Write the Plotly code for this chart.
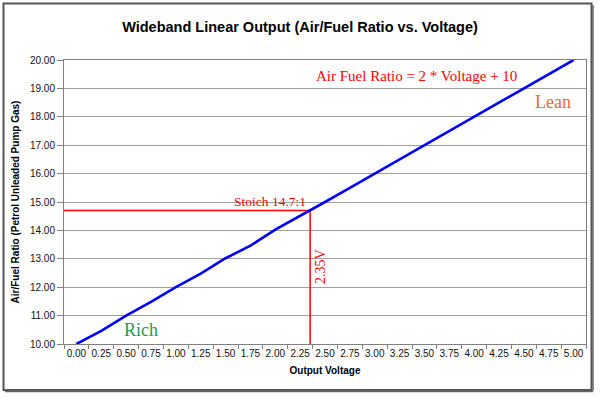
import plotly.graph_objects as go

# ---- data ----
volts = [0.00, 0.25, 0.50, 0.75, 1.00, 1.25, 1.50, 1.75, 2.00, 2.25, 2.50,
         2.75, 3.00, 3.25, 3.50, 3.75, 4.00, 4.25, 4.50, 4.75, 5.00]
volt_labels = ["%.2f" % v for v in volts]
afr = [10.0, 10.46, 11.0, 11.48, 12.0, 12.48, 13.02, 13.46, 14.03, 14.5, 15.0,
       15.5, 16.0, 16.5, 17.0, 17.5, 18.0, 18.5, 19.0, 19.5, 20.0]
y_ticks = [10, 11, 12, 13, 14, 15, 16, 17, 18, 19, 20]
stoich_v = 2.35
stoich_afr = 14.7

X_MIN, X_MAX = -0.125, 5.125
Y_MIN, Y_MAX = 10, 20

SANS = "Liberation Sans, Arial, sans-serif"
SERIF = "Liberation Serif, Times New Roman, serif"

fig = go.Figure()

# red reference lines
fig.add_trace(go.Scatter(
    x=[X_MIN, stoich_v, stoich_v], y=[stoich_afr, stoich_afr, Y_MIN],
    mode="lines", line=dict(color="#FF0000", width=1.5),
    hoverinfo="skip", showlegend=False, cliponaxis=False))

# main line
fig.add_trace(go.Scatter(
    x=volts, y=afr, mode="lines",
    line=dict(color="#0000FF", width=2.6),
    showlegend=False))

# annotations
fig.add_annotation(x=2.39, y=19.44, text="Air Fuel Ratio = 2 * Voltage + 10",
                   showarrow=False, xanchor="left", yanchor="middle",
                   font=dict(family=SERIF, size=15, color="#FF0000"))
fig.add_annotation(x=4.79, y=18.52, text="Lean", showarrow=False,
                   xanchor="center", yanchor="middle",
                   font=dict(family=SERIF, size=18, color="#EE6A33"))
fig.add_annotation(x=0.65, y=10.49, text="Rich", showarrow=False,
                   xanchor="center", yanchor="middle",
                   font=dict(family=SERIF, size=18, color="#1E9B50"))
fig.add_annotation(x=stoich_v - 0.02, y=stoich_afr, text="Stoich 14.7:1",
                   showarrow=False, xanchor="right", yanchor="bottom",
                   font=dict(family=SERIF, size=13.5, color="#FF0000"))
fig.add_annotation(x=2.45, y=12.71, text="2.35V", showarrow=False,
                   textangle=-90, xanchor="center", yanchor="middle",
                   font=dict(family=SERIF, size=14, color="#FF0000"))

# outer chart border
L, R, T, B = 64, 14, 60, 55
W, H = 600, 399
pw, ph = W - L - R, H - T - B
def px(x): return (x - L) / pw
def py(y): return (H - B - y) / ph
fig.add_shape(type="rect", xref="paper", yref="paper",
              x0=px(3.5), x1=px(591.5), y0=py(390), y1=py(3.5),
              line=dict(color="#555555", width=2), layer="above")
fig.add_shape(type="line", xref="paper", yref="paper",
              x0=px(593), x1=px(593), y0=py(391), y1=py(5),
              line=dict(color="#666666", width=1.5))
fig.add_shape(type="line", xref="paper", yref="paper",
              x0=px(5), x1=px(593), y0=py(391.5), y1=py(391.5),
              line=dict(color="#666666", width=1.5))

fig.update_layout(
    width=W, height=H,
    margin=dict(l=L, r=R, t=T, b=B, autoexpand=False),
    paper_bgcolor="white", plot_bgcolor="white",
    title=dict(text="<b>Wideband Linear Output (Air/Fuel Ratio vs. Voltage)</b>",
               x=0.5, xref="paper", xanchor="center",
               y=1 - 27 / H, yanchor="middle",
               font=dict(family=SANS, size=14.5, color="#000000")),
    font=dict(family=SANS, size=10, color="#111111"),
)
fig.update_layout(title_x=(300 - L) / pw)

fig.update_xaxes(
    range=[X_MIN, X_MAX], tickmode="array", tickvals=volts, ticktext=volt_labels,
    ticks="", showgrid=False, zeroline=False, automargin=False,
    showline=True, linecolor="#808080", linewidth=1, mirror=True,
    minor=dict(tick0=X_MIN, dtick=0.25, ticks="outside", ticklen=4,
               tickcolor="#808080", showgrid=False),
    tickfont=dict(family=SANS, size=10, color="#111111"),
    title=dict(text="<b>Output Voltage</b>", standoff=8,
               font=dict(family=SANS, size=10, color="#000000")),
)
fig.update_yaxes(
    range=[Y_MIN, Y_MAX], tickmode="array", tickvals=y_ticks,
    tickformat=".2f", ticks="outside", ticklen=6, tickcolor="#808080",
    showgrid=True, gridcolor="#A0A0A0", gridwidth=1, zeroline=False,
    showline=True, linecolor="#808080", linewidth=1, mirror=True, automargin=False,
    tickfont=dict(family=SANS, size=10, color="#111111"),
    title=dict(text="<b>Air/Fuel Ratio (Petrol Unleaded Pump Gas)</b>", standoff=8,
               font=dict(family=SANS, size=10, color="#000000")),
)

fig.write_html("out.html", config={"displayModeBar": False},
               post_script="document.body.style.margin='0';document.body.style.overflow='hidden';")
